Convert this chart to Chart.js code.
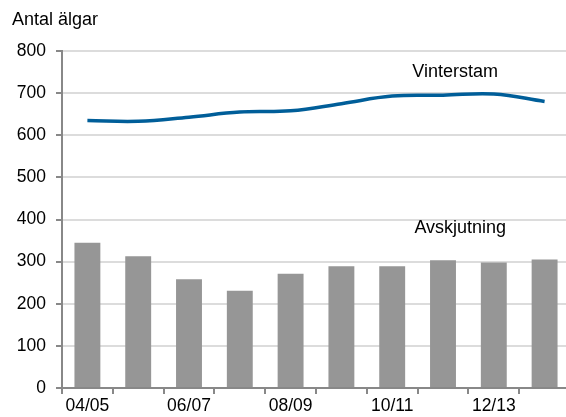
<!DOCTYPE html>
<html>
<head>
<meta charset="utf-8">
<script src="https://cdn.jsdelivr.net/npm/chart.js@4"></script>
<style>
  html, body { margin: 0; padding: 0; background: #fff; overflow: hidden; }
  #wrap { width: 566px; height: 417px; position: relative; overflow: hidden; }
</style>
</head>
<body>
<div id="wrap"><canvas id="c" width="570" height="417"></canvas></div>
<script>
const categories = ["04/05","05/06","06/07","07/08","08/09","09/10","10/11","11/12","12/13","13/14"];
const vinterstam = [635, 633, 643, 655, 658, 675, 693, 695, 698, 680];
const avskjutning = [345, 313, 258, 231, 271, 289, 289, 303, 298, 305];
const yTicks = [0, 100, 200, 300, 400, 500, 600, 700, 800];
const yAxisTitle = "Antal älgar";
const seriesNames = ["Vinterstam", "Avskjutning"];

const FONT = "'Liberation Sans', Arial, sans-serif";

const textPlugin = {
  id: 'texts',
  afterDraw(chart) {
    const ctx = chart.ctx;
    const xs = chart.scales.x, ys = chart.scales.y;
    ctx.save();
    ctx.fillStyle = '#000';
    ctx.font = '18px ' + FONT;
    ctx.textBaseline = 'middle';
    ctx.textAlign = 'left';
    ctx.fillText(yAxisTitle, 12, 20);
    ctx.textAlign = 'center';
    const lab = (name, idx, val) => {
      const x = xs.getPixelForValue(Math.floor(idx)) + (idx - Math.floor(idx)) * (xs.getPixelForValue(1) - xs.getPixelForValue(0));
      ctx.fillText(name, x, ys.getPixelForValue(val));
    };
    lab(seriesNames[0], 7.24, 750);
    lab(seriesNames[1], 7.34, 380);
    ctx.restore();
  }
};

new Chart(document.getElementById('c'), {
  data: {
    labels: categories,
    datasets: [
      {
        type: 'line',
        label: seriesNames[0],
        data: vinterstam,
        borderColor: '#005e99',
        borderWidth: 3.5,
        pointRadius: 0,
        tension: 0.4,
        fill: false,
        order: 0
      },
      {
        type: 'bar',
        label: seriesNames[1],
        data: avskjutning,
        backgroundColor: '#969696',
        borderWidth: 0,
        barPercentage: 0.51,
        categoryPercentage: 1.0,
        order: 1
      }
    ]
  },
  options: {
    responsive: false,
    animation: false,
    devicePixelRatio: 1,
    layout: { padding: { left: 0, right: 0, top: 51, bottom: 0 } },
    plugins: { legend: { display: false }, tooltip: { enabled: false }, title: { display: false } },
    scales: {
      x: {
        offset: true,
        grid: { offset: true, drawOnChartArea: false, drawTicks: true, tickLength: 6, color: '#888', lineWidth: 2 },
        border: { display: true, color: '#888', width: 2 },
        ticks: {
          autoSkip: false, maxRotation: 0, padding: 2,
          color: '#000', font: { family: FONT, size: 17.5 },
          callback: function(v, i) { return i % 2 === 0 ? categories[i] : ''; }
        },
        afterFit(s) { s.height = 29; }
      },
      y: {
        min: 0, max: 800,
        afterBuildTicks(s) { s.ticks = yTicks.map(v => ({ value: v })); },
        grid: { color: '#dcdcdc', lineWidth: 2, tickLength: 6, tickColor: '#888', drawTicks: true },
        border: { display: true, color: '#888', width: 2 },
        ticks: { color: '#000', padding: 10, font: { family: FONT, size: 17.5 } },
        afterFit(s) { s.width = 62; }
      }
    }
  },
  plugins: [textPlugin]
});
</script>
</body>
</html>
